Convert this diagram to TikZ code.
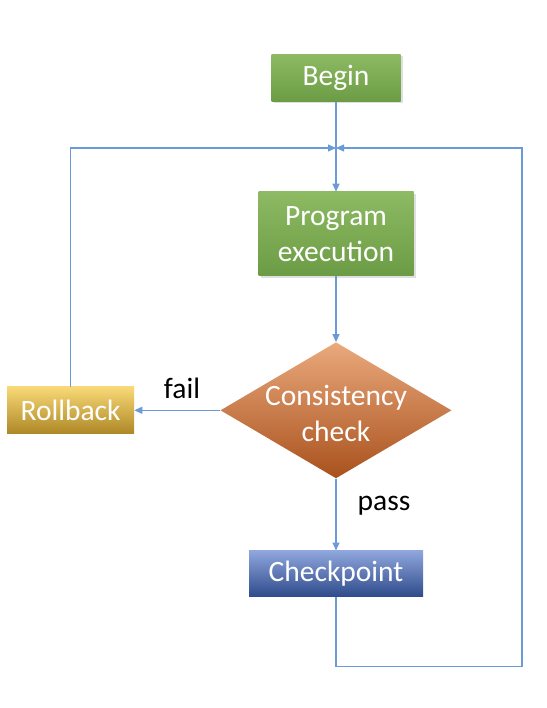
\documentclass[tikz,border=0pt]{standalone}
\usepackage{fontspec}
\setmainfont{Carlito}
\usetikzlibrary{arrows.meta,positioning,shapes.geometric,shadows}

\definecolor{lnblue}{HTML}{6A9BD8}
\definecolor{grtop}{HTML}{8DBA62}
\definecolor{grbot}{HTML}{6B9C45}
\definecolor{ortop}{HTML}{EAA97C}
\definecolor{ormid}{HTML}{E0833F}
\definecolor{orbot}{HTML}{A9511D}
\definecolor{yltop}{HTML}{F9D977}
\definecolor{ylmid}{HTML}{F2C12F}
\definecolor{ylbot}{HTML}{AE8726}
\definecolor{bltop}{HTML}{8FA7DD}
\definecolor{blmid}{HTML}{4F72C0}
\definecolor{blbot}{HTML}{2F4B8B}

\begin{document}
\begin{tikzpicture}[
  x=1pt, y=-1pt,
  every node/.style={font=\fontsize{29.5}{36}\selectfont},
  box/.style={rectangle, text=white, align=center, inner sep=0pt},
  greenbox/.style={box, top color=grtop, bottom color=grbot,
                   drop shadow={shadow xshift=2pt, shadow yshift=-2pt, opacity=0.25}},
  decision/.style={diamond, minimum width=231pt, minimum height=136pt,
                   inner sep=0pt, top color=ortop, middle color=ormid, bottom color=orbot},
  txt/.style={text=white, align=center, inner sep=0pt},
  lbl/.style={text=black, inner sep=0pt},
  ar/.style={-{Triangle[length=8pt, width=7pt]}, draw=lnblue, line width=1.1pt}
]
  \useasboundingbox (0,0) rectangle (546,708);

  \node[greenbox, minimum width=129pt, minimum height=47pt] (begin) at (336,78) {Begin};
  \node[greenbox, minimum width=155pt, minimum height=84pt, below=90pt of begin] (prog)
    {Program\\execution};
  \node[decision, below=66pt of prog] (chk) {};
  \node[txt] (chktxt) at ([yshift=-3pt]chk.center) {Consistency\\check};
  \node[box, minimum width=127pt, minimum height=47pt, top color=yltop, middle color=ylmid,
        bottom color=ylbot, left=86pt of chk] (rb) {Rollback};
  \node[box, minimum width=174pt, minimum height=46pt, top color=bltop, middle color=blmid,
        bottom color=blbot, below=72pt of chk] (cp) {Checkpoint};

  \coordinate (jn) at (336,148);
  \coordinate (rt) at (522,148);

  \node[lbl] (fail) at (182,388) {fail};
  \node[lbl] (pass) at (384,506) {pass};

  \draw[ar] (begin) -- (prog);
  \draw[ar] (prog) -- (chk);
  \draw[ar] (chk) -- (rb);
  \draw[ar] (chk) -- (cp);
  \draw[ar] (rb.north) |- (jn);
  \draw[ar] (cp.south) -- ++(0,70) -| (rt) -- (jn);

\end{tikzpicture}
\end{document}
